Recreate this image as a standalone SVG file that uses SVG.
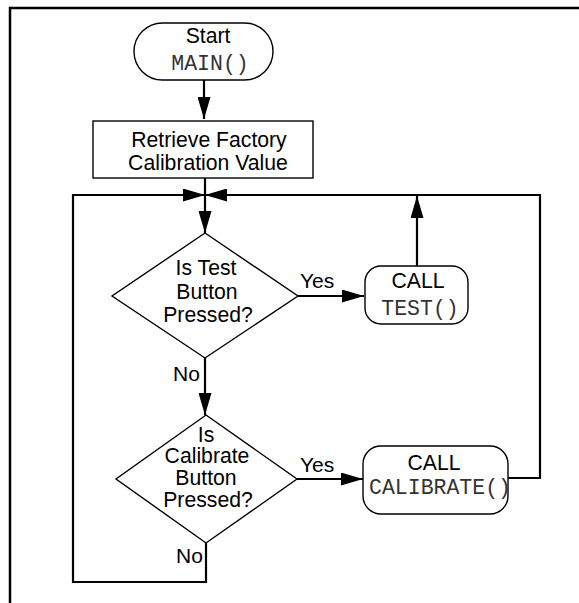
<svg xmlns="http://www.w3.org/2000/svg" width="579" height="603" viewBox="0 0 579 603">
<style>
.s{fill:#fff;stroke:#000;stroke-width:1.4}
.c{fill:none;stroke:#000;stroke-width:2.2}
.t{font-family:"Liberation Sans",Arial,sans-serif;font-size:21.2px;fill:#000;text-anchor:middle}
.m{font-family:"Liberation Mono","Courier New",monospace;font-size:21.5px;fill:#333;text-anchor:middle}
.l{font-family:"Liberation Sans",Arial,sans-serif;font-size:21px;fill:#000}
</style>
<defs>
<marker id="a" markerUnits="userSpaceOnUse" markerWidth="22" markerHeight="13" refX="22" refY="6.5" orient="auto">
<path d="M0,0 L22,6.5 L0,13 z" fill="#000"/>
</marker>
</defs>
<path d="M10,603 V8 H579" fill="none" stroke="#000" stroke-width="2.5"/>
<g id="connectors">
<path class="c" d="M204,80 V119" marker-end="url(#a)"/>
<path class="c" d="M205,178 V233" marker-end="url(#a)"/>
<path class="c" d="M206,543 V582 H73 V195 H205" marker-end="url(#a)"/>
<path class="c" d="M508,478 H540 V195 H205" marker-end="url(#a)"/>
<path class="c" d="M417,266 V196" marker-end="url(#a)"/>
<path class="c" d="M298,296 H364" marker-end="url(#a)"/>
<path class="c" d="M205,358 V415" marker-end="url(#a)"/>
<path class="c" d="M297,479 H363" marker-end="url(#a)"/>
<text class="l" x="300" y="288">Yes</text>
<text class="l" x="173" y="381">No</text>
<text class="l" x="300" y="472">Yes</text>
<text class="l" x="176" y="563">No</text>
</g>
<g id="start">
<rect class="s" x="134" y="23" width="139" height="57" rx="28.5"/>
<text class="t" x="208" y="43">Start</text>
<text class="m" x="210" y="70">MAIN()</text>
</g>
<g id="retrieve">
<rect class="s" x="93" y="121" width="220" height="57"/>
<text class="t" x="209" y="147">Retrieve Factory</text>
<text class="t" x="208" y="170">Calibration Value</text>
</g>
<g id="test-decision">
<polygon class="s" points="205,233 298,296 205,358 112,296"/>
<text class="t" x="206" y="275">Is Test</text>
<text class="t" x="207" y="299">Button</text>
<text class="t" x="208" y="322">Pressed?</text>
</g>
<g id="call-test">
<rect class="s" x="365" y="266" width="103" height="58" rx="16"/>
<text class="t" x="418" y="288">CALL</text>
<text class="m" x="420" y="315">TEST()</text>
</g>
<g id="calibrate-decision">
<polygon class="s" points="206,415 297,479 206,543 116,479"/>
<text class="t" x="206" y="442">Is</text>
<text class="t" x="207" y="463">Calibrate</text>
<text class="t" x="206" y="485">Button</text>
<text class="t" x="208" y="507">Pressed?</text>
</g>
<g id="call-calibrate">
<rect class="s" x="363" y="446" width="145" height="68" rx="18"/>
<text class="t" x="434" y="470">CALL</text>
<text class="m" x="440" y="494">CALIBRATE()</text>
</g>
</svg>
